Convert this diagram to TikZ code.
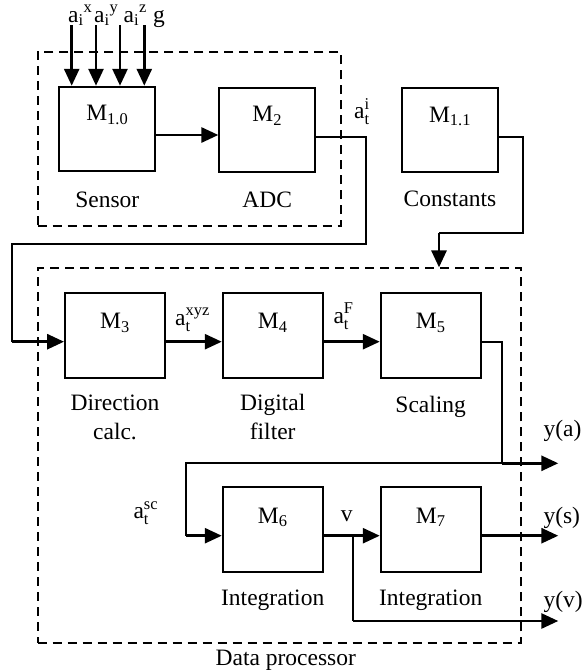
\documentclass[tikz,border=0pt]{standalone}
\usepackage{fontspec}
\setmainfont{Liberation Serif}
\usetikzlibrary{arrows.meta, positioning}
\tikzset{every node/.style={font=\fontsize{23.5}{28.5}\selectfont}}
\tikzset{
  blk/.style  = {draw, line width=1.9pt, minimum width=96pt, minimum height=84pt, inner sep=0pt},
  blkb/.style = {blk, minimum width=100pt, minimum height=85pt},
  grp/.style  = {draw, line width=1.8pt, dash pattern=on 9pt off 6pt, inner sep=0pt},
  wire/.style = {line width=1.9pt},
  arr/.style  = {line width=2.8pt, -{Triangle[length=17pt,width=15pt]}},
  txt/.style  = {inner sep=0pt, anchor=base},
}

\begin{document}
\begin{tikzpicture}[x=1pt, y=-1pt]
  \useasboundingbox (0,0) rectangle (582,672);

  % Dashed groups
  \node[grp, minimum width=303.3pt, minimum height=174pt] (sensor) at (189.3,138.7) {};
  \node[grp, minimum width=483pt, minimum height=375pt] (dp) at (279.2,455.8) {};
  \node[txt] (dplab) at (285.8,665) {Data processor};

  % Blocks
  \node[blk]  (m10) at (107.3,128.7) {};
  \node[blk]  (m2)  at (267.3,129.7) {};
  \node[blk]  (m11) at (450,130.2) {};
  \node[blkb] (m3)  at (115,335.2) {};
  \node[blkb] (m4)  at (272.7,335.2) {};
  \node[blkb] (m5)  at (430.7,335.2) {};
  \node[blkb] (m6)  at (272.7,529.5) {};
  \node[blkb] (m7)  at (430.7,529.5) {};

  % Block names
  \node[txt] (n10) at ([yshift=-35pt]m10.north) {M\textsubscript{1.0}};
  \node[txt] (n2)  at ([yshift=-35pt]m2.north)  {M\textsubscript{2}};
  \node[txt] (n11) at ([yshift=-35pt]m11.north) {M\textsubscript{1.1}};
  \node[txt] (n3)  at ([yshift=-37pt]m3.north)  {M\textsubscript{3}};
  \node[txt] (n4)  at ([yshift=-37pt]m4.north)  {M\textsubscript{4}};
  \node[txt] (n5)  at ([yshift=-37pt]m5.north)  {M\textsubscript{5}};
  \node[txt] (n6)  at ([yshift=-37pt]m6.north)  {M\textsubscript{6}};
  \node[txt] (n7)  at ([yshift=-37pt]m7.north)  {M\textsubscript{7}};

  % Captions
  \node[txt] (csen) at ([yshift=-36pt]m10.south) {Sensor};
  \node[txt] (cadc) at ([yshift=-35pt]m2.south) {ADC};
  \node[txt] (ccon) at ([yshift=-33.5pt]m11.south) {Constants};
  \node[txt, align=center] (cdir) at ([yshift=-60.6pt]m3.south) {Direction\\calc.};
  \node[txt, align=center] (cflt) at ([yshift=-60.6pt]m4.south) {Digital\\filter};
  \node[txt] (cscl) at ([yshift=-34pt]m5.south) {Scaling};
  \node[txt] (cin1) at ([yshift=-32.5pt]m6.south) {Integration};
  \node[txt] (cin2) at ([yshift=-32.5pt]m7.south) {Integration};

  % Sensor inputs
  \node[txt, anchor=base west] (ax) at (68,22)    {a\textsubscript{i}\textsuperscript{x}};
  \node[txt, anchor=base west] (ay) at (94,22)    {a\textsubscript{i}\textsuperscript{y}};
  \node[txt, anchor=base west] (az) at (123.5,22) {a\textsubscript{i}\textsuperscript{z}};
  \node[txt, anchor=base west] (g)  at (153,22)   {g};
  \foreach \x/\n in {71.7/1, 96/2, 120/3, 144.3/4} {
    \coordinate (in\n) at (\x,25);
    \draw[arr] (in\n) -- (in\n |- m10.north);
  }

  % Signal labels
  \node[txt, anchor=base west] (ati)  at (354,118.3)   {$\mathrm{a}_\mathrm{t}^\mathrm{i}$};
  \node[txt, anchor=base west] (atx)  at (175,325)     {$\mathrm{a}_\mathrm{t}^\mathrm{xyz}$};
  \node[txt, anchor=base west] (atf)  at (333.3,323)   {$\mathrm{a}_\mathrm{t}^\mathrm{F}$};
  \node[txt, anchor=base west] (atsc) at (133.3,518.3) {$\mathrm{a}_\mathrm{t}^\mathrm{sc}$};
  \node[txt] (v) at (346.7,521.7) {v};
  \node[txt, anchor=base west] (lya) at (543.3,436.7) {y(a)};
  \node[txt, anchor=base west] (lys) at (543.3,523.3) {y(s)};
  \node[txt, anchor=base west] (lyv) at (543.3,607.7) {y(v)};

  % Bend points and free ends
  \coordinate (lp) at (365.7,244);
  \coordinate (lq) at (11.7,244);
  \coordinate (cp) at (523.3,233.3);
  \coordinate (cq) at (439,233.3);
  \coordinate (sp) at (501.7,463.3);
  \coordinate (sq) at (185.7,463.3);
  \coordinate (vb) at (352.7,535.7);
  \coordinate (ya) at (558.3,463.3);
  \coordinate (ys) at (558.3,535.7);
  \coordinate (yv) at (558.3,621);
  \coordinate (m3in) at ([yshift=-6.5pt]m3.west);
  \coordinate (m6in) at ([yshift=-6.2pt]m6.west);

  % Connectors
  \draw[arr] ([yshift=-6.3pt]m10.east) -- ([yshift=-6.3pt]m10.east -| m2.west);
  \draw[wire] ([yshift=-7pt]m2.east) -| (lp) -- (lq) -- (lq |- m3in);
  \draw[arr] (lq |- m3in) -- (m3in);
  \draw[wire] ([yshift=-6.5pt]m11.east) -| (cp) -- (cq);
  \draw[arr] (cq) -- (cq |- dp.north);
  \draw[arr] ([yshift=-6.5pt]m3.east) -- ([yshift=-6.5pt]m4.west);
  \draw[arr] ([yshift=-6.5pt]m4.east) -- ([yshift=-6.5pt]m5.west);
  \draw[wire] ([yshift=-6.5pt]m5.east) -| (sp);
  \draw[arr] (sp) -- (ya);
  \draw[wire] (sp) -- (sq) -- (sq |- m6in);
  \draw[arr] (sq |- m6in) -- (m6in);
  \draw[arr] ([yshift=-6.2pt]m6.east) -- ([yshift=-6.2pt]m7.west);
  \draw[wire] (vb) -- (vb |- yv);
  \draw[arr] (vb |- yv) -- (yv);
  \draw[arr] ([yshift=-6.2pt]m7.east) -- (ys);
\end{tikzpicture}
\end{document}
